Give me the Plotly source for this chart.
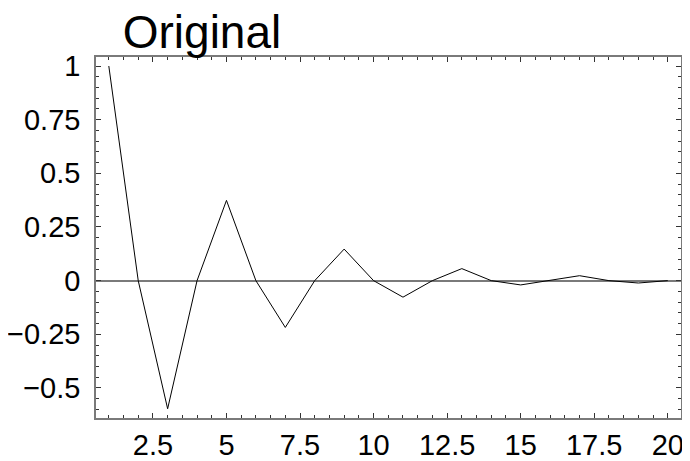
import plotly.graph_objects as go

x_vals = list(range(1, 21))
y_vals = [1.0, 0.0, -0.597, 0.0, 0.374, 0.0, -0.218, 0.0, 0.147, 0.0,
          -0.077, 0.0, 0.056, 0.0, -0.02, 0.0, 0.023, 0.0, -0.011, 0.0]

x_tickvals = [2.5, 5, 7.5, 10, 12.5, 15, 17.5, 20]
x_ticktext = ["2.5", "5", "7.5", "10", "12.5", "15", "17.5", "20"]
y_tickvals = [-0.5, -0.25, 0, 0.25, 0.5, 0.75, 1]
y_ticktext = ["\u22120.5", "\u22120.25", "0", "0.25", "0.5", "0.75", "1"]
title_text = "Original"

FONT = "Arial, Liberation Sans, Helvetica, sans-serif"
FRAME = "#7a7a7a"

# page body has an 8px default margin; the figure is sized to fit the rest
W, H = 682, 453

fig = go.Figure()
fig.add_trace(go.Scatter(x=x_vals, y=y_vals, mode="lines",
                         line=dict(color="black", width=1),
                         showlegend=False, hoverinfo="skip"))

fig.update_layout(
    width=W, height=H,
    margin=dict(l=88, r=9, t=49, b=43, autoexpand=False),
    paper_bgcolor="white", plot_bgcolor="white",
    font=dict(family=FONT, size=29, color="black"),
    title=dict(text=title_text, font=dict(family=FONT, size=46, color="black"),
               xref="container", yref="container", x=194/W, xanchor="center",
               y=1 - 8/H, yanchor="top", pad=dict(t=0, b=0, l=0, r=0)),
)

fig.update_xaxes(
    range=[0.565, 20.45], showgrid=False, zeroline=False, automargin=False,
    showline=True, linecolor=FRAME, linewidth=1.5, mirror="allticks",
    tickmode="array", tickvals=x_tickvals, ticktext=x_ticktext,
    ticks="inside", ticklen=5, tickwidth=1, tickcolor="#333",
    minor=dict(ticks="inside", ticklen=3, tickwidth=1, tickcolor="#333", dtick=0.5, tick0=0, showgrid=False),
    tickfont=dict(size=29), ticklabelstandoff=0,
)
fig.update_yaxes(
    range=[-0.64, 1.042], showgrid=False, automargin=False,
    zeroline=True, zerolinecolor=FRAME, zerolinewidth=1.5,
    showline=True, linecolor=FRAME, linewidth=1.5, mirror="allticks",
    tickmode="array", tickvals=y_tickvals, ticktext=y_ticktext,
    ticks="inside", ticklen=5, tickwidth=1, tickcolor="#333",
    minor=dict(ticks="inside", ticklen=3, tickwidth=1, tickcolor="#333", dtick=0.05, tick0=0, showgrid=False),
    tickfont=dict(size=29), ticklabelstandoff=8,
)

fig.write_html("out.html")
